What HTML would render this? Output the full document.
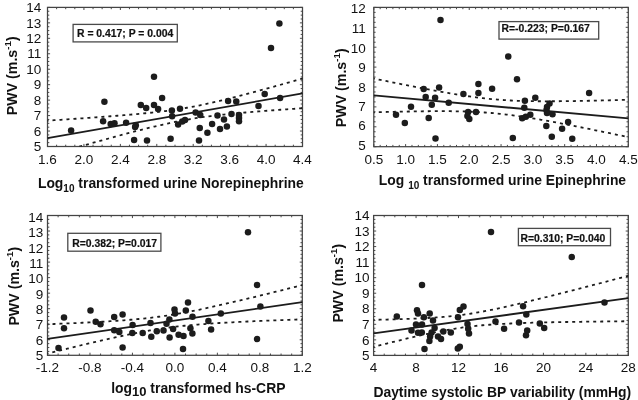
<!DOCTYPE html>
<html><head><meta charset="utf-8"><style>
html,body{margin:0;padding:0;background:#fff;width:638px;height:400px;overflow:hidden;}
svg{display:block;filter:grayscale(100%);}
text{font-family:"Liberation Sans", sans-serif;fill:#111;}
</style></head><body>
<svg width="638" height="400" viewBox="0 0 638 400">
<rect width="638" height="400" fill="#fff"/>
<g id="p1">
<clipPath id="c1"><rect x="47.5" y="7.4" width="255.0" height="139.1"/></clipPath>
<path d="M47.50 146.50v-2.6M47.50 7.40v2.6M56.61 146.50v-1.8M56.61 7.40v1.8M65.71 146.50v-1.8M65.71 7.40v1.8M74.82 146.50v-1.8M74.82 7.40v1.8M83.93 146.50v-2.6M83.93 7.40v2.6M93.04 146.50v-1.8M93.04 7.40v1.8M102.14 146.50v-1.8M102.14 7.40v1.8M111.25 146.50v-1.8M111.25 7.40v1.8M120.36 146.50v-2.6M120.36 7.40v2.6M129.46 146.50v-1.8M129.46 7.40v1.8M138.57 146.50v-1.8M138.57 7.40v1.8M147.68 146.50v-1.8M147.68 7.40v1.8M156.79 146.50v-2.6M156.79 7.40v2.6M165.89 146.50v-1.8M165.89 7.40v1.8M175.00 146.50v-1.8M175.00 7.40v1.8M184.11 146.50v-1.8M184.11 7.40v1.8M193.21 146.50v-2.6M193.21 7.40v2.6M202.32 146.50v-1.8M202.32 7.40v1.8M211.43 146.50v-1.8M211.43 7.40v1.8M220.54 146.50v-1.8M220.54 7.40v1.8M229.64 146.50v-2.6M229.64 7.40v2.6M238.75 146.50v-1.8M238.75 7.40v1.8M247.86 146.50v-1.8M247.86 7.40v1.8M256.96 146.50v-1.8M256.96 7.40v1.8M266.07 146.50v-2.6M266.07 7.40v2.6M275.18 146.50v-1.8M275.18 7.40v1.8M284.29 146.50v-1.8M284.29 7.40v1.8M293.39 146.50v-1.8M293.39 7.40v1.8M302.50 146.50v-2.6M302.50 7.40v2.6M47.50 146.50h2.6M302.50 146.50h-2.6M47.50 142.64h1.8M302.50 142.64h-1.8M47.50 138.77h1.8M302.50 138.77h-1.8M47.50 134.91h1.8M302.50 134.91h-1.8M47.50 131.04h2.6M302.50 131.04h-2.6M47.50 127.18h1.8M302.50 127.18h-1.8M47.50 123.32h1.8M302.50 123.32h-1.8M47.50 119.45h1.8M302.50 119.45h-1.8M47.50 115.59h2.6M302.50 115.59h-2.6M47.50 111.72h1.8M302.50 111.72h-1.8M47.50 107.86h1.8M302.50 107.86h-1.8M47.50 104.00h1.8M302.50 104.00h-1.8M47.50 100.13h2.6M302.50 100.13h-2.6M47.50 96.27h1.8M302.50 96.27h-1.8M47.50 92.41h1.8M302.50 92.41h-1.8M47.50 88.54h1.8M302.50 88.54h-1.8M47.50 84.68h2.6M302.50 84.68h-2.6M47.50 80.81h1.8M302.50 80.81h-1.8M47.50 76.95h1.8M302.50 76.95h-1.8M47.50 73.09h1.8M302.50 73.09h-1.8M47.50 69.22h2.6M302.50 69.22h-2.6M47.50 65.36h1.8M302.50 65.36h-1.8M47.50 61.49h1.8M302.50 61.49h-1.8M47.50 57.63h1.8M302.50 57.63h-1.8M47.50 53.77h2.6M302.50 53.77h-2.6M47.50 49.90h1.8M302.50 49.90h-1.8M47.50 46.04h1.8M302.50 46.04h-1.8M47.50 42.18h1.8M302.50 42.18h-1.8M47.50 38.31h2.6M302.50 38.31h-2.6M47.50 34.45h1.8M302.50 34.45h-1.8M47.50 30.58h1.8M302.50 30.58h-1.8M47.50 26.72h1.8M302.50 26.72h-1.8M47.50 22.86h2.6M302.50 22.86h-2.6M47.50 18.99h1.8M302.50 18.99h-1.8M47.50 15.13h1.8M302.50 15.13h-1.8M47.50 11.26h1.8M302.50 11.26h-1.8M47.50 7.40h2.6M302.50 7.40h-2.6" stroke="#4a4a4a" stroke-width="1" fill="none"/>
<rect x="47.5" y="7.4" width="255.0" height="139.1" fill="none" stroke="#444" stroke-width="1.25"/>
<text x="41.3" y="151.20" text-anchor="end" font-size="13.5">5</text>
<text x="41.3" y="135.74" text-anchor="end" font-size="13.5">6</text>
<text x="41.3" y="120.29" text-anchor="end" font-size="13.5">7</text>
<text x="41.3" y="104.83" text-anchor="end" font-size="13.5">8</text>
<text x="41.3" y="89.38" text-anchor="end" font-size="13.5">9</text>
<text x="41.3" y="73.92" text-anchor="end" font-size="13.5">10</text>
<text x="41.3" y="58.47" text-anchor="end" font-size="13.5">11</text>
<text x="41.3" y="43.01" text-anchor="end" font-size="13.5">12</text>
<text x="41.3" y="27.56" text-anchor="end" font-size="13.5">13</text>
<text x="41.3" y="12.10" text-anchor="end" font-size="13.5">14</text>
<text x="47.50" y="164.4" text-anchor="middle" font-size="13.5">1.6</text>
<text x="83.93" y="164.4" text-anchor="middle" font-size="13.5">2.0</text>
<text x="120.36" y="164.4" text-anchor="middle" font-size="13.5">2.4</text>
<text x="156.79" y="164.4" text-anchor="middle" font-size="13.5">2.8</text>
<text x="193.21" y="164.4" text-anchor="middle" font-size="13.5">3.2</text>
<text x="229.64" y="164.4" text-anchor="middle" font-size="13.5">3.6</text>
<text x="266.07" y="164.4" text-anchor="middle" font-size="13.5">4.0</text>
<text x="302.50" y="164.4" text-anchor="middle" font-size="13.5">4.4</text>
<path d="M45.50 120.78 L47.68 120.64 L49.85 120.50 L52.03 120.36 L54.21 120.21 L56.38 120.07 L58.56 119.93 L60.74 119.78 L62.91 119.64 L65.09 119.50 L67.26 119.35 L69.44 119.21 L71.62 119.06 L73.79 118.91 L75.97 118.76 L78.15 118.61 L80.32 118.47 L82.50 118.32 L84.68 118.16 L86.85 118.01 L89.03 117.86 L91.21 117.70 L93.38 117.55 L95.56 117.39 L97.74 117.23 L99.91 117.08 L102.09 116.91 L104.26 116.75 L106.44 116.59 L108.62 116.42 L110.79 116.26 L112.97 116.09 L115.15 115.92 L117.32 115.74 L119.50 115.57 L121.68 115.39 L123.85 115.21 L126.03 115.03 L128.21 114.84 L130.38 114.66 L132.56 114.46 L134.74 114.27 L136.91 114.07 L139.09 113.87 L141.26 113.66 L143.44 113.45 L145.62 113.23 L147.79 113.01 L149.97 112.79 L152.15 112.55 L154.32 112.32 L156.50 112.07 L158.68 111.82 L160.85 111.56 L163.03 111.29 L165.21 111.02 L167.38 110.74 L169.56 110.44 L171.74 110.14 L173.91 109.83 L176.09 109.51 L178.26 109.18 L180.44 108.84 L182.62 108.48 L184.79 108.12 L186.97 107.74 L189.15 107.36 L191.32 106.96 L193.50 106.55 L195.68 106.13 L197.85 105.70 L200.03 105.26 L202.21 104.81 L204.38 104.35 L206.56 103.89 L208.74 103.41 L210.91 102.92 L213.09 102.43 L215.26 101.92 L217.44 101.41 L219.62 100.89 L221.79 100.37 L223.97 99.84 L226.15 99.30 L228.32 98.76 L230.50 98.22 L232.68 97.66 L234.85 97.11 L237.03 96.55 L239.21 95.98 L241.38 95.41 L243.56 94.84 L245.74 94.27 L247.91 93.69 L250.09 93.11 L252.26 92.52 L254.44 91.94 L256.62 91.35 L258.79 90.76 L260.97 90.16 L263.15 89.57 L265.32 88.97 L267.50 88.37 L269.68 87.77 L271.85 87.17 L274.03 86.56 L276.21 85.96 L278.38 85.35 L280.56 84.75 L282.74 84.14 L284.91 83.53 L287.09 82.92 L289.26 82.30 L291.44 81.69 L293.62 81.08 L295.79 80.46 L297.97 79.85 L300.15 79.23 L302.32 78.61 L304.50 77.99" clip-path="url(#c1)" fill="none" stroke="#1c1c1c" stroke-width="1.8" stroke-dasharray="3 4"/>
<path d="M45.50 156.32 L47.68 155.70 L49.85 155.08 L52.03 154.45 L54.21 153.83 L56.38 153.21 L58.56 152.59 L60.74 151.96 L62.91 151.34 L65.09 150.72 L67.26 150.10 L69.44 149.49 L71.62 148.87 L73.79 148.25 L75.97 147.63 L78.15 147.02 L80.32 146.40 L82.50 145.79 L84.68 145.17 L86.85 144.56 L89.03 143.95 L91.21 143.34 L93.38 142.73 L95.56 142.12 L97.74 141.51 L99.91 140.91 L102.09 140.30 L104.26 139.70 L106.44 139.10 L108.62 138.50 L110.79 137.90 L112.97 137.31 L115.15 136.71 L117.32 136.12 L119.50 135.53 L121.68 134.94 L123.85 134.36 L126.03 133.78 L128.21 133.20 L130.38 132.62 L132.56 132.05 L134.74 131.48 L136.91 130.91 L139.09 130.35 L141.26 129.79 L143.44 129.24 L145.62 128.69 L147.79 128.15 L149.97 127.61 L152.15 127.08 L154.32 126.55 L156.50 126.03 L158.68 125.52 L160.85 125.01 L163.03 124.51 L165.21 124.02 L167.38 123.54 L169.56 123.07 L171.74 122.61 L173.91 122.15 L176.09 121.71 L178.26 121.28 L180.44 120.85 L182.62 120.44 L184.79 120.04 L186.97 119.65 L189.15 119.27 L191.32 118.90 L193.50 118.55 L195.68 118.20 L197.85 117.87 L200.03 117.54 L202.21 117.23 L204.38 116.92 L206.56 116.63 L208.74 116.34 L210.91 116.06 L213.09 115.79 L215.26 115.53 L217.44 115.28 L219.62 115.03 L221.79 114.79 L223.97 114.55 L226.15 114.32 L228.32 114.10 L230.50 113.88 L232.68 113.67 L234.85 113.46 L237.03 113.26 L239.21 113.06 L241.38 112.86 L243.56 112.67 L245.74 112.48 L247.91 112.29 L250.09 112.11 L252.26 111.93 L254.44 111.75 L256.62 111.57 L258.79 111.40 L260.97 111.23 L263.15 111.06 L265.32 110.89 L267.50 110.73 L269.68 110.56 L271.85 110.40 L274.03 110.24 L276.21 110.08 L278.38 109.92 L280.56 109.76 L282.74 109.61 L284.91 109.45 L287.09 109.30 L289.26 109.15 L291.44 109.00 L293.62 108.85 L295.79 108.70 L297.97 108.55 L300.15 108.40 L302.32 108.25 L304.50 108.10" clip-path="url(#c1)" fill="none" stroke="#1c1c1c" stroke-width="1.8" stroke-dasharray="3 4"/>
<line x1="47.5" y1="138.2" x2="302.5" y2="93.4" stroke="#1c1c1c" stroke-width="1.85"/>
<circle cx="71.1" cy="130.4" r="3.25" fill="#1c1c1c"/>
<circle cx="104.4" cy="101.7" r="3.25" fill="#1c1c1c"/>
<circle cx="103.1" cy="121.2" r="3.25" fill="#1c1c1c"/>
<circle cx="110.7" cy="124.1" r="3.25" fill="#1c1c1c"/>
<circle cx="114.5" cy="123.3" r="3.25" fill="#1c1c1c"/>
<circle cx="126.1" cy="122.8" r="3.25" fill="#1c1c1c"/>
<circle cx="135.8" cy="125.2" r="3.25" fill="#1c1c1c"/>
<circle cx="135.1" cy="126.9" r="3.25" fill="#1c1c1c"/>
<circle cx="134.1" cy="139.9" r="3.25" fill="#1c1c1c"/>
<circle cx="147" cy="140.6" r="3.25" fill="#1c1c1c"/>
<circle cx="140.8" cy="104.9" r="3.25" fill="#1c1c1c"/>
<circle cx="146.2" cy="108" r="3.25" fill="#1c1c1c"/>
<circle cx="154" cy="76.7" r="3.25" fill="#1c1c1c"/>
<circle cx="154" cy="104.9" r="3.25" fill="#1c1c1c"/>
<circle cx="158.1" cy="108.9" r="3.25" fill="#1c1c1c"/>
<circle cx="162.1" cy="97.9" r="3.25" fill="#1c1c1c"/>
<circle cx="170.6" cy="138.75" r="3.25" fill="#1c1c1c"/>
<circle cx="171.9" cy="110.6" r="3.25" fill="#1c1c1c"/>
<circle cx="172.1" cy="116.25" r="3.25" fill="#1c1c1c"/>
<circle cx="180" cy="108.75" r="3.25" fill="#1c1c1c"/>
<circle cx="178.1" cy="124.4" r="3.25" fill="#1c1c1c"/>
<circle cx="182.25" cy="121.6" r="3.25" fill="#1c1c1c"/>
<circle cx="185" cy="120" r="3.25" fill="#1c1c1c"/>
<circle cx="195.6" cy="112.5" r="3.25" fill="#1c1c1c"/>
<circle cx="200.25" cy="115" r="3.25" fill="#1c1c1c"/>
<circle cx="199.75" cy="128.1" r="3.25" fill="#1c1c1c"/>
<circle cx="199" cy="140.6" r="3.25" fill="#1c1c1c"/>
<circle cx="207.4" cy="132.75" r="3.25" fill="#1c1c1c"/>
<circle cx="212.1" cy="124" r="3.25" fill="#1c1c1c"/>
<circle cx="217.5" cy="115.6" r="3.25" fill="#1c1c1c"/>
<circle cx="220" cy="129" r="3.25" fill="#1c1c1c"/>
<circle cx="224" cy="119.6" r="3.25" fill="#1c1c1c"/>
<circle cx="226.9" cy="126.5" r="3.25" fill="#1c1c1c"/>
<circle cx="228.1" cy="101" r="3.25" fill="#1c1c1c"/>
<circle cx="231.5" cy="114.1" r="3.25" fill="#1c1c1c"/>
<circle cx="236.25" cy="101.6" r="3.25" fill="#1c1c1c"/>
<circle cx="239" cy="115" r="3.25" fill="#1c1c1c"/>
<circle cx="239" cy="118.1" r="3.25" fill="#1c1c1c"/>
<circle cx="239" cy="121.25" r="3.25" fill="#1c1c1c"/>
<circle cx="258.5" cy="105.9" r="3.25" fill="#1c1c1c"/>
<circle cx="264.7" cy="94.1" r="3.25" fill="#1c1c1c"/>
<circle cx="280.1" cy="98" r="3.25" fill="#1c1c1c"/>
<circle cx="271" cy="48.1" r="3.25" fill="#1c1c1c"/>
<circle cx="279.4" cy="23.5" r="3.25" fill="#1c1c1c"/>
<rect x="73.1" y="24.4" width="104.20" height="17.50" fill="#fff" stroke="#4a4a4a" stroke-width="1.3"/>
<text x="77.0" y="37.0" font-size="10.4" font-weight="bold" stroke="#1a1a1a" stroke-width="0.2">R = 0.417; P = 0.004</text>
<text transform="translate(16.7,115.2) rotate(-90)" font-size="14.2" font-weight="bold">PWV (m.s<tspan font-size="9.8" dy="-5.6">-1</tspan><tspan dy="5.6">)</tspan></text>
<text x="37.9" y="188.3"><tspan font-size="13.9" font-weight="bold" dy="0">Log</tspan><tspan font-size="10" font-weight="bold" dy="3.9">10</tspan><tspan font-size="13.9" font-weight="bold" dy="-3.9">&#160;transformed&#160;urine&#160;Norepinephrine</tspan></text>
</g>
<g id="p2">
<clipPath id="c2"><rect x="373.8" y="7.4" width="254.49999999999994" height="139.29999999999998"/></clipPath>
<path d="M373.80 146.70v-2.6M373.80 7.40v2.6M380.16 146.70v-1.8M380.16 7.40v1.8M386.52 146.70v-1.8M386.52 7.40v1.8M392.89 146.70v-1.8M392.89 7.40v1.8M399.25 146.70v-1.8M399.25 7.40v1.8M405.61 146.70v-2.6M405.61 7.40v2.6M411.98 146.70v-1.8M411.98 7.40v1.8M418.34 146.70v-1.8M418.34 7.40v1.8M424.70 146.70v-1.8M424.70 7.40v1.8M431.06 146.70v-1.8M431.06 7.40v1.8M437.43 146.70v-2.6M437.43 7.40v2.6M443.79 146.70v-1.8M443.79 7.40v1.8M450.15 146.70v-1.8M450.15 7.40v1.8M456.51 146.70v-1.8M456.51 7.40v1.8M462.88 146.70v-1.8M462.88 7.40v1.8M469.24 146.70v-2.6M469.24 7.40v2.6M475.60 146.70v-1.8M475.60 7.40v1.8M481.96 146.70v-1.8M481.96 7.40v1.8M488.32 146.70v-1.8M488.32 7.40v1.8M494.69 146.70v-1.8M494.69 7.40v1.8M501.05 146.70v-2.6M501.05 7.40v2.6M507.41 146.70v-1.8M507.41 7.40v1.8M513.77 146.70v-1.8M513.77 7.40v1.8M520.14 146.70v-1.8M520.14 7.40v1.8M526.50 146.70v-1.8M526.50 7.40v1.8M532.86 146.70v-2.6M532.86 7.40v2.6M539.22 146.70v-1.8M539.22 7.40v1.8M545.59 146.70v-1.8M545.59 7.40v1.8M551.95 146.70v-1.8M551.95 7.40v1.8M558.31 146.70v-1.8M558.31 7.40v1.8M564.67 146.70v-2.6M564.67 7.40v2.6M571.04 146.70v-1.8M571.04 7.40v1.8M577.40 146.70v-1.8M577.40 7.40v1.8M583.76 146.70v-1.8M583.76 7.40v1.8M590.12 146.70v-1.8M590.12 7.40v1.8M596.49 146.70v-2.6M596.49 7.40v2.6M602.85 146.70v-1.8M602.85 7.40v1.8M609.21 146.70v-1.8M609.21 7.40v1.8M615.58 146.70v-1.8M615.58 7.40v1.8M621.94 146.70v-1.8M621.94 7.40v1.8M628.30 146.70v-2.6M628.30 7.40v2.6M373.80 146.70h2.6M628.30 146.70h-2.6M373.80 141.72h1.8M628.30 141.72h-1.8M373.80 136.75h1.8M628.30 136.75h-1.8M373.80 131.77h1.8M628.30 131.77h-1.8M373.80 126.80h2.6M628.30 126.80h-2.6M373.80 121.82h1.8M628.30 121.82h-1.8M373.80 116.85h1.8M628.30 116.85h-1.8M373.80 111.88h1.8M628.30 111.88h-1.8M373.80 106.90h2.6M628.30 106.90h-2.6M373.80 101.92h1.8M628.30 101.92h-1.8M373.80 96.95h1.8M628.30 96.95h-1.8M373.80 91.97h1.8M628.30 91.97h-1.8M373.80 87.00h2.6M628.30 87.00h-2.6M373.80 82.02h1.8M628.30 82.02h-1.8M373.80 77.05h1.8M628.30 77.05h-1.8M373.80 72.08h1.8M628.30 72.08h-1.8M373.80 67.10h2.6M628.30 67.10h-2.6M373.80 62.12h1.8M628.30 62.12h-1.8M373.80 57.15h1.8M628.30 57.15h-1.8M373.80 52.17h1.8M628.30 52.17h-1.8M373.80 47.20h2.6M628.30 47.20h-2.6M373.80 42.22h1.8M628.30 42.22h-1.8M373.80 37.25h1.8M628.30 37.25h-1.8M373.80 32.28h1.8M628.30 32.28h-1.8M373.80 27.30h2.6M628.30 27.30h-2.6M373.80 22.33h1.8M628.30 22.33h-1.8M373.80 17.35h1.8M628.30 17.35h-1.8M373.80 12.38h1.8M628.30 12.38h-1.8M373.80 7.40h2.6M628.30 7.40h-2.6" stroke="#4a4a4a" stroke-width="1" fill="none"/>
<rect x="373.8" y="7.4" width="254.49999999999994" height="139.29999999999998" fill="none" stroke="#444" stroke-width="1.25"/>
<text x="365.7" y="149.50" text-anchor="end" font-size="13.5">5</text>
<text x="365.7" y="130.00" text-anchor="end" font-size="13.5">6</text>
<text x="365.7" y="111.10" text-anchor="end" font-size="13.5">7</text>
<text x="365.7" y="91.90" text-anchor="end" font-size="13.5">8</text>
<text x="365.7" y="72.00" text-anchor="end" font-size="13.5">9</text>
<text x="365.7" y="52.50" text-anchor="end" font-size="13.5">10</text>
<text x="365.7" y="32.80" text-anchor="end" font-size="13.5">11</text>
<text x="365.7" y="13.40" text-anchor="end" font-size="13.5">12</text>
<text x="373.80" y="163.7" text-anchor="middle" font-size="13.5">0.5</text>
<text x="405.61" y="163.7" text-anchor="middle" font-size="13.5">1.0</text>
<text x="437.43" y="163.7" text-anchor="middle" font-size="13.5">1.5</text>
<text x="469.24" y="163.7" text-anchor="middle" font-size="13.5">2.0</text>
<text x="501.05" y="163.7" text-anchor="middle" font-size="13.5">2.5</text>
<text x="532.86" y="163.7" text-anchor="middle" font-size="13.5">3.0</text>
<text x="564.67" y="163.7" text-anchor="middle" font-size="13.5">3.5</text>
<text x="596.49" y="163.7" text-anchor="middle" font-size="13.5">4.0</text>
<text x="628.30" y="163.7" text-anchor="middle" font-size="13.5">4.5</text>
<path d="M371.80 78.08 L373.97 78.54 L376.14 78.99 L378.32 79.44 L380.49 79.88 L382.66 80.33 L384.83 80.78 L387.01 81.22 L389.18 81.67 L391.35 82.11 L393.52 82.56 L395.69 83.00 L397.87 83.44 L400.04 83.88 L402.21 84.31 L404.38 84.75 L406.56 85.18 L408.73 85.62 L410.90 86.05 L413.07 86.48 L415.25 86.90 L417.42 87.33 L419.59 87.75 L421.76 88.17 L423.93 88.59 L426.11 89.01 L428.28 89.42 L430.45 89.83 L432.62 90.24 L434.80 90.64 L436.97 91.04 L439.14 91.44 L441.31 91.83 L443.48 92.22 L445.66 92.60 L447.83 92.98 L450.00 93.36 L452.17 93.73 L454.35 94.09 L456.52 94.45 L458.69 94.80 L460.86 95.14 L463.04 95.48 L465.21 95.81 L467.38 96.13 L469.55 96.45 L471.72 96.75 L473.90 97.05 L476.07 97.33 L478.24 97.61 L480.41 97.88 L482.59 98.14 L484.76 98.38 L486.93 98.62 L489.10 98.84 L491.27 99.06 L493.45 99.26 L495.62 99.45 L497.79 99.63 L499.96 99.80 L502.14 99.96 L504.31 100.11 L506.48 100.25 L508.65 100.37 L510.83 100.49 L513.00 100.60 L515.17 100.69 L517.34 100.78 L519.51 100.86 L521.69 100.93 L523.86 101.00 L526.03 101.05 L528.20 101.10 L530.38 101.14 L532.55 101.18 L534.72 101.21 L536.89 101.23 L539.06 101.25 L541.24 101.27 L543.41 101.28 L545.58 101.28 L547.75 101.28 L549.93 101.28 L552.10 101.27 L554.27 101.26 L556.44 101.25 L558.62 101.23 L560.79 101.21 L562.96 101.19 L565.13 101.16 L567.30 101.14 L569.48 101.11 L571.65 101.07 L573.82 101.04 L575.99 101.00 L578.17 100.97 L580.34 100.93 L582.51 100.88 L584.68 100.84 L586.85 100.80 L589.03 100.75 L591.20 100.70 L593.37 100.66 L595.54 100.61 L597.72 100.55 L599.89 100.50 L602.06 100.45 L604.23 100.40 L606.41 100.34 L608.58 100.28 L610.75 100.23 L612.92 100.17 L615.09 100.11 L617.27 100.05 L619.44 99.99 L621.61 99.93 L623.78 99.87 L625.96 99.81 L628.13 99.75 L630.30 99.68" clip-path="url(#c2)" fill="none" stroke="#1c1c1c" stroke-width="1.8" stroke-dasharray="3 4"/>
<path d="M371.80 112.35 L373.97 112.30 L376.14 112.24 L378.32 112.18 L380.49 112.13 L382.66 112.07 L384.83 112.02 L387.01 111.96 L389.18 111.91 L391.35 111.86 L393.52 111.81 L395.69 111.76 L397.87 111.71 L400.04 111.67 L402.21 111.62 L404.38 111.58 L406.56 111.54 L408.73 111.50 L410.90 111.46 L413.07 111.42 L415.25 111.39 L417.42 111.36 L419.59 111.32 L421.76 111.30 L423.93 111.27 L426.11 111.25 L428.28 111.23 L430.45 111.21 L432.62 111.20 L434.80 111.19 L436.97 111.18 L439.14 111.17 L441.31 111.17 L443.48 111.18 L445.66 111.19 L447.83 111.20 L450.00 111.22 L452.17 111.24 L454.35 111.27 L456.52 111.31 L458.69 111.35 L460.86 111.40 L463.04 111.45 L465.21 111.52 L467.38 111.59 L469.55 111.67 L471.72 111.75 L473.90 111.85 L476.07 111.95 L478.24 112.07 L480.41 112.19 L482.59 112.33 L484.76 112.48 L486.93 112.63 L489.10 112.80 L491.27 112.98 L493.45 113.17 L495.62 113.37 L497.79 113.58 L499.96 113.81 L502.14 114.04 L504.31 114.29 L506.48 114.54 L508.65 114.81 L510.83 115.08 L513.00 115.37 L515.17 115.66 L517.34 115.97 L519.51 116.28 L521.69 116.60 L523.86 116.93 L526.03 117.27 L528.20 117.61 L530.38 117.96 L532.55 118.32 L534.72 118.68 L536.89 119.05 L539.06 119.42 L541.24 119.80 L543.41 120.18 L545.58 120.57 L547.75 120.96 L549.93 121.36 L552.10 121.76 L554.27 122.16 L556.44 122.57 L558.62 122.98 L560.79 123.39 L562.96 123.81 L565.13 124.22 L567.30 124.65 L569.48 125.07 L571.65 125.49 L573.82 125.92 L575.99 126.35 L578.17 126.78 L580.34 127.21 L582.51 127.65 L584.68 128.08 L586.85 128.52 L589.03 128.96 L591.20 129.40 L593.37 129.84 L595.54 130.28 L597.72 130.73 L599.89 131.17 L602.06 131.62 L604.23 132.06 L606.41 132.51 L608.58 132.96 L610.75 133.41 L612.92 133.86 L615.09 134.31 L617.27 134.76 L619.44 135.21 L621.61 135.67 L623.78 136.12 L625.96 136.58 L628.13 137.03 L630.30 137.49" clip-path="url(#c2)" fill="none" stroke="#1c1c1c" stroke-width="1.8" stroke-dasharray="3 4"/>
<line x1="373.8" y1="95.4" x2="628.25" y2="118.4" stroke="#1c1c1c" stroke-width="1.85"/>
<circle cx="396" cy="114.8" r="3.25" fill="#1c1c1c"/>
<circle cx="404.8" cy="123" r="3.25" fill="#1c1c1c"/>
<circle cx="411" cy="106.8" r="3.25" fill="#1c1c1c"/>
<circle cx="423.7" cy="88.9" r="3.25" fill="#1c1c1c"/>
<circle cx="425.7" cy="96.9" r="3.25" fill="#1c1c1c"/>
<circle cx="428.7" cy="117.9" r="3.25" fill="#1c1c1c"/>
<circle cx="431.8" cy="104.8" r="3.25" fill="#1c1c1c"/>
<circle cx="435.1" cy="97.7" r="3.25" fill="#1c1c1c"/>
<circle cx="435.5" cy="138.6" r="3.25" fill="#1c1c1c"/>
<circle cx="439.1" cy="87.4" r="3.25" fill="#1c1c1c"/>
<circle cx="448.7" cy="102.8" r="3.25" fill="#1c1c1c"/>
<circle cx="463.4" cy="94" r="3.25" fill="#1c1c1c"/>
<circle cx="468.1" cy="112" r="3.25" fill="#1c1c1c"/>
<circle cx="467.4" cy="116.1" r="3.25" fill="#1c1c1c"/>
<circle cx="469.3" cy="119.1" r="3.25" fill="#1c1c1c"/>
<circle cx="476" cy="112" r="3.25" fill="#1c1c1c"/>
<circle cx="478.4" cy="84.1" r="3.25" fill="#1c1c1c"/>
<circle cx="478.4" cy="92.9" r="3.25" fill="#1c1c1c"/>
<circle cx="492.1" cy="88.7" r="3.25" fill="#1c1c1c"/>
<circle cx="508.25" cy="56.5" r="3.25" fill="#1c1c1c"/>
<circle cx="517" cy="79.3" r="3.25" fill="#1c1c1c"/>
<circle cx="535.3" cy="97.7" r="3.25" fill="#1c1c1c"/>
<circle cx="524.9" cy="100.8" r="3.25" fill="#1c1c1c"/>
<circle cx="524.3" cy="107.8" r="3.25" fill="#1c1c1c"/>
<circle cx="522.2" cy="118.3" r="3.25" fill="#1c1c1c"/>
<circle cx="525.8" cy="116.8" r="3.25" fill="#1c1c1c"/>
<circle cx="530.3" cy="114.7" r="3.25" fill="#1c1c1c"/>
<circle cx="549.5" cy="103.5" r="3.25" fill="#1c1c1c"/>
<circle cx="547" cy="107" r="3.25" fill="#1c1c1c"/>
<circle cx="546.5" cy="110" r="3.25" fill="#1c1c1c"/>
<circle cx="547" cy="113" r="3.25" fill="#1c1c1c"/>
<circle cx="552.5" cy="114.2" r="3.25" fill="#1c1c1c"/>
<circle cx="546.3" cy="126" r="3.25" fill="#1c1c1c"/>
<circle cx="562.1" cy="128.8" r="3.25" fill="#1c1c1c"/>
<circle cx="568.1" cy="121.9" r="3.25" fill="#1c1c1c"/>
<circle cx="572.25" cy="138.8" r="3.25" fill="#1c1c1c"/>
<circle cx="589.1" cy="92.9" r="3.25" fill="#1c1c1c"/>
<circle cx="512.8" cy="137.9" r="3.25" fill="#1c1c1c"/>
<circle cx="551.8" cy="136.7" r="3.25" fill="#1c1c1c"/>
<circle cx="440.5" cy="20" r="3.25" fill="#1c1c1c"/>
<rect x="499" y="21.6" width="99.70" height="17.50" fill="#fff" stroke="#4a4a4a" stroke-width="1.3"/>
<text x="501.5" y="32.3" font-size="10.4" font-weight="bold" stroke="#1a1a1a" stroke-width="0.2">R=-0.223; P=0.167</text>
<text transform="translate(345.8,127.2) rotate(-90)" font-size="14.2" font-weight="bold">PWV (m.s<tspan font-size="9.8" dy="-5.6">-1</tspan><tspan dy="5.6">)</tspan></text>
<text x="378.8" y="184.6"><tspan font-size="13.9" font-weight="bold" dy="0">Log&#160;</tspan><tspan font-size="10" font-weight="bold" dy="4.4">10</tspan><tspan font-size="13.9" font-weight="bold" dy="-4.4">&#160;transformed&#160;urine&#160;Epinephrine</tspan></text>
</g>
<g id="p3">
<clipPath id="c3"><rect x="47.5" y="215.5" width="254.8" height="139.8"/></clipPath>
<path d="M47.50 355.30v-2.6M47.50 215.50v2.6M58.12 355.30v-1.8M58.12 215.50v1.8M68.73 355.30v-1.8M68.73 215.50v1.8M79.35 355.30v-1.8M79.35 215.50v1.8M89.97 355.30v-2.6M89.97 215.50v2.6M100.58 355.30v-1.8M100.58 215.50v1.8M111.20 355.30v-1.8M111.20 215.50v1.8M121.82 355.30v-1.8M121.82 215.50v1.8M132.43 355.30v-2.6M132.43 215.50v2.6M143.05 355.30v-1.8M143.05 215.50v1.8M153.67 355.30v-1.8M153.67 215.50v1.8M164.28 355.30v-1.8M164.28 215.50v1.8M174.90 355.30v-2.6M174.90 215.50v2.6M185.52 355.30v-1.8M185.52 215.50v1.8M196.13 355.30v-1.8M196.13 215.50v1.8M206.75 355.30v-1.8M206.75 215.50v1.8M217.37 355.30v-2.6M217.37 215.50v2.6M227.98 355.30v-1.8M227.98 215.50v1.8M238.60 355.30v-1.8M238.60 215.50v1.8M249.22 355.30v-1.8M249.22 215.50v1.8M259.83 355.30v-2.6M259.83 215.50v2.6M270.45 355.30v-1.8M270.45 215.50v1.8M281.07 355.30v-1.8M281.07 215.50v1.8M291.68 355.30v-1.8M291.68 215.50v1.8M302.30 355.30v-2.6M302.30 215.50v2.6M47.50 355.30h2.6M302.30 355.30h-2.6M47.50 351.42h1.8M302.30 351.42h-1.8M47.50 347.53h1.8M302.30 347.53h-1.8M47.50 343.65h1.8M302.30 343.65h-1.8M47.50 339.77h2.6M302.30 339.77h-2.6M47.50 335.88h1.8M302.30 335.88h-1.8M47.50 332.00h1.8M302.30 332.00h-1.8M47.50 328.12h1.8M302.30 328.12h-1.8M47.50 324.23h2.6M302.30 324.23h-2.6M47.50 320.35h1.8M302.30 320.35h-1.8M47.50 316.47h1.8M302.30 316.47h-1.8M47.50 312.58h1.8M302.30 312.58h-1.8M47.50 308.70h2.6M302.30 308.70h-2.6M47.50 304.82h1.8M302.30 304.82h-1.8M47.50 300.93h1.8M302.30 300.93h-1.8M47.50 297.05h1.8M302.30 297.05h-1.8M47.50 293.17h2.6M302.30 293.17h-2.6M47.50 289.28h1.8M302.30 289.28h-1.8M47.50 285.40h1.8M302.30 285.40h-1.8M47.50 281.52h1.8M302.30 281.52h-1.8M47.50 277.63h2.6M302.30 277.63h-2.6M47.50 273.75h1.8M302.30 273.75h-1.8M47.50 269.87h1.8M302.30 269.87h-1.8M47.50 265.98h1.8M302.30 265.98h-1.8M47.50 262.10h2.6M302.30 262.10h-2.6M47.50 258.22h1.8M302.30 258.22h-1.8M47.50 254.33h1.8M302.30 254.33h-1.8M47.50 250.45h1.8M302.30 250.45h-1.8M47.50 246.57h2.6M302.30 246.57h-2.6M47.50 242.68h1.8M302.30 242.68h-1.8M47.50 238.80h1.8M302.30 238.80h-1.8M47.50 234.92h1.8M302.30 234.92h-1.8M47.50 231.03h2.6M302.30 231.03h-2.6M47.50 227.15h1.8M302.30 227.15h-1.8M47.50 223.27h1.8M302.30 223.27h-1.8M47.50 219.38h1.8M302.30 219.38h-1.8M47.50 215.50h2.6M302.30 215.50h-2.6" stroke="#4a4a4a" stroke-width="1" fill="none"/>
<rect x="47.5" y="215.5" width="254.8" height="139.8" fill="none" stroke="#444" stroke-width="1.25"/>
<text x="43.3" y="359.50" text-anchor="end" font-size="13.5">5</text>
<text x="43.3" y="344.50" text-anchor="end" font-size="13.5">6</text>
<text x="43.3" y="329.30" text-anchor="end" font-size="13.5">7</text>
<text x="43.3" y="314.10" text-anchor="end" font-size="13.5">8</text>
<text x="43.3" y="298.90" text-anchor="end" font-size="13.5">9</text>
<text x="43.3" y="283.30" text-anchor="end" font-size="13.5">10</text>
<text x="43.3" y="267.80" text-anchor="end" font-size="13.5">11</text>
<text x="43.3" y="252.60" text-anchor="end" font-size="13.5">12</text>
<text x="43.3" y="237.30" text-anchor="end" font-size="13.5">13</text>
<text x="43.3" y="221.90" text-anchor="end" font-size="13.5">14</text>
<text x="47.50" y="371.6" text-anchor="middle" font-size="13.5">-1.2</text>
<text x="89.97" y="371.6" text-anchor="middle" font-size="13.5">-0.8</text>
<text x="132.43" y="371.6" text-anchor="middle" font-size="13.5">-0.4</text>
<text x="174.90" y="371.6" text-anchor="middle" font-size="13.5">0.0</text>
<text x="217.37" y="371.6" text-anchor="middle" font-size="13.5">0.4</text>
<text x="259.83" y="371.6" text-anchor="middle" font-size="13.5">0.8</text>
<text x="302.30" y="371.6" text-anchor="middle" font-size="13.5">1.2</text>
<path d="M45.50 324.34 L47.67 324.26 L49.85 324.17 L52.02 324.08 L54.20 323.99 L56.37 323.90 L58.55 323.81 L60.72 323.72 L62.90 323.63 L65.07 323.54 L67.25 323.44 L69.42 323.35 L71.60 323.25 L73.77 323.15 L75.95 323.05 L78.12 322.95 L80.30 322.85 L82.47 322.74 L84.65 322.64 L86.82 322.53 L89.00 322.42 L91.17 322.31 L93.35 322.20 L95.52 322.08 L97.69 321.96 L99.87 321.84 L102.04 321.72 L104.22 321.59 L106.39 321.46 L108.57 321.33 L110.74 321.19 L112.92 321.05 L115.09 320.91 L117.27 320.76 L119.44 320.61 L121.62 320.45 L123.79 320.29 L125.97 320.12 L128.14 319.95 L130.32 319.77 L132.49 319.59 L134.67 319.39 L136.84 319.20 L139.02 318.99 L141.19 318.78 L143.37 318.55 L145.54 318.32 L147.72 318.09 L149.89 317.84 L152.06 317.58 L154.24 317.31 L156.41 317.04 L158.59 316.75 L160.76 316.46 L162.94 316.15 L165.11 315.83 L167.29 315.51 L169.46 315.17 L171.64 314.82 L173.81 314.47 L175.99 314.10 L178.16 313.72 L180.34 313.34 L182.51 312.94 L184.69 312.54 L186.86 312.13 L189.04 311.71 L191.21 311.29 L193.39 310.86 L195.56 310.42 L197.74 309.97 L199.91 309.52 L202.08 309.06 L204.26 308.60 L206.43 308.13 L208.61 307.66 L210.78 307.18 L212.96 306.70 L215.13 306.22 L217.31 305.73 L219.48 305.23 L221.66 304.74 L223.83 304.24 L226.01 303.74 L228.18 303.23 L230.36 302.73 L232.53 302.22 L234.71 301.70 L236.88 301.19 L239.06 300.67 L241.23 300.15 L243.41 299.63 L245.58 299.11 L247.76 298.59 L249.93 298.06 L252.11 297.54 L254.28 297.01 L256.45 296.48 L258.63 295.95 L260.80 295.42 L262.98 294.88 L265.15 294.35 L267.33 293.82 L269.50 293.28 L271.68 292.74 L273.85 292.20 L276.03 291.67 L278.20 291.13 L280.38 290.59 L282.55 290.05 L284.73 289.50 L286.90 288.96 L289.08 288.42 L291.25 287.88 L293.43 287.33 L295.60 286.79 L297.78 286.24 L299.95 285.70 L302.13 285.15 L304.30 284.60" clip-path="url(#c3)" fill="none" stroke="#1c1c1c" stroke-width="1.8" stroke-dasharray="3 4"/>
<path d="M45.50 354.03 L47.67 353.49 L49.85 352.95 L52.02 352.42 L54.20 351.88 L56.37 351.34 L58.55 350.80 L60.72 350.27 L62.90 349.73 L65.07 349.20 L67.25 348.67 L69.42 348.14 L71.60 347.61 L73.77 347.08 L75.95 346.55 L78.12 346.03 L80.30 345.50 L82.47 344.98 L84.65 344.46 L86.82 343.94 L89.00 343.42 L91.17 342.91 L93.35 342.40 L95.52 341.89 L97.69 341.38 L99.87 340.87 L102.04 340.37 L104.22 339.87 L106.39 339.37 L108.57 338.88 L110.74 338.39 L112.92 337.90 L115.09 337.42 L117.27 336.94 L119.44 336.47 L121.62 336.00 L123.79 335.53 L125.97 335.07 L128.14 334.62 L130.32 334.17 L132.49 333.73 L134.67 333.30 L136.84 332.87 L139.02 332.45 L141.19 332.03 L143.37 331.63 L145.54 331.23 L147.72 330.85 L149.89 330.47 L152.06 330.10 L154.24 329.74 L156.41 329.39 L158.59 329.05 L160.76 328.72 L162.94 328.40 L165.11 328.09 L167.29 327.79 L169.46 327.50 L171.64 327.22 L173.81 326.95 L175.99 326.69 L178.16 326.44 L180.34 326.20 L182.51 325.96 L184.69 325.74 L186.86 325.52 L189.04 325.31 L191.21 325.11 L193.39 324.92 L195.56 324.73 L197.74 324.55 L199.91 324.38 L202.08 324.21 L204.26 324.04 L206.43 323.88 L208.61 323.73 L210.78 323.58 L212.96 323.44 L215.13 323.29 L217.31 323.16 L219.48 323.02 L221.66 322.89 L223.83 322.76 L226.01 322.64 L228.18 322.52 L230.36 322.40 L232.53 322.28 L234.71 322.17 L236.88 322.06 L239.06 321.95 L241.23 321.84 L243.41 321.73 L245.58 321.63 L247.76 321.52 L249.93 321.42 L252.11 321.32 L254.28 321.22 L256.45 321.13 L258.63 321.03 L260.80 320.94 L262.98 320.84 L265.15 320.75 L267.33 320.66 L269.50 320.57 L271.68 320.48 L273.85 320.39 L276.03 320.30 L278.20 320.21 L280.38 320.13 L282.55 320.04 L284.73 319.96 L286.90 319.87 L289.08 319.79 L291.25 319.71 L293.43 319.62 L295.60 319.54 L297.78 319.46 L299.95 319.38 L302.13 319.30 L304.30 319.22" clip-path="url(#c3)" fill="none" stroke="#1c1c1c" stroke-width="1.8" stroke-dasharray="3 4"/>
<line x1="47.5" y1="338.9" x2="302.3" y2="302.2" stroke="#1c1c1c" stroke-width="1.85"/>
<circle cx="58.5" cy="348.1" r="3.25" fill="#1c1c1c"/>
<circle cx="64" cy="317.4" r="3.25" fill="#1c1c1c"/>
<circle cx="64" cy="328.3" r="3.25" fill="#1c1c1c"/>
<circle cx="90.5" cy="310.4" r="3.25" fill="#1c1c1c"/>
<circle cx="95.7" cy="321.8" r="3.25" fill="#1c1c1c"/>
<circle cx="100.5" cy="324.2" r="3.25" fill="#1c1c1c"/>
<circle cx="114.2" cy="317" r="3.25" fill="#1c1c1c"/>
<circle cx="114.2" cy="330.3" r="3.25" fill="#1c1c1c"/>
<circle cx="119.3" cy="332.1" r="3.25" fill="#1c1c1c"/>
<circle cx="122.6" cy="314.5" r="3.25" fill="#1c1c1c"/>
<circle cx="122.6" cy="347.4" r="3.25" fill="#1c1c1c"/>
<circle cx="132.6" cy="325.1" r="3.25" fill="#1c1c1c"/>
<circle cx="132.3" cy="332.9" r="3.25" fill="#1c1c1c"/>
<circle cx="142.7" cy="332.9" r="3.25" fill="#1c1c1c"/>
<circle cx="150.5" cy="323" r="3.25" fill="#1c1c1c"/>
<circle cx="151.3" cy="336.8" r="3.25" fill="#1c1c1c"/>
<circle cx="156.8" cy="331.3" r="3.25" fill="#1c1c1c"/>
<circle cx="163.5" cy="330.5" r="3.25" fill="#1c1c1c"/>
<circle cx="166.5" cy="323.7" r="3.25" fill="#1c1c1c"/>
<circle cx="169.4" cy="319.6" r="3.25" fill="#1c1c1c"/>
<circle cx="169.6" cy="337.6" r="3.25" fill="#1c1c1c"/>
<circle cx="173.1" cy="328.9" r="3.25" fill="#1c1c1c"/>
<circle cx="174.5" cy="309.4" r="3.25" fill="#1c1c1c"/>
<circle cx="175" cy="313.4" r="3.25" fill="#1c1c1c"/>
<circle cx="178.6" cy="334.8" r="3.25" fill="#1c1c1c"/>
<circle cx="183.5" cy="336" r="3.25" fill="#1c1c1c"/>
<circle cx="183" cy="349.1" r="3.25" fill="#1c1c1c"/>
<circle cx="188" cy="302.4" r="3.25" fill="#1c1c1c"/>
<circle cx="185.8" cy="310.5" r="3.25" fill="#1c1c1c"/>
<circle cx="192.5" cy="316.7" r="3.25" fill="#1c1c1c"/>
<circle cx="190.4" cy="328.2" r="3.25" fill="#1c1c1c"/>
<circle cx="192.4" cy="333.5" r="3.25" fill="#1c1c1c"/>
<circle cx="208.4" cy="320.9" r="3.25" fill="#1c1c1c"/>
<circle cx="211.1" cy="329.5" r="3.25" fill="#1c1c1c"/>
<circle cx="220.8" cy="313.6" r="3.25" fill="#1c1c1c"/>
<circle cx="248" cy="232.2" r="3.25" fill="#1c1c1c"/>
<circle cx="257" cy="285" r="3.25" fill="#1c1c1c"/>
<circle cx="260.4" cy="306.6" r="3.25" fill="#1c1c1c"/>
<circle cx="257" cy="339.1" r="3.25" fill="#1c1c1c"/>
<rect x="67.8" y="233.3" width="93.10" height="17.90" fill="#fff" stroke="#4a4a4a" stroke-width="1.3"/>
<text x="72.2" y="247.3" font-size="10.4" font-weight="bold" stroke="#1a1a1a" stroke-width="0.2">R=0.382; P=0.017</text>
<text transform="translate(18.6,325.6) rotate(-90)" font-size="14.2" font-weight="bold">PWV (m.s<tspan font-size="9.8" dy="-5.6">-1</tspan><tspan dy="5.6">)</tspan></text>
<text x="111.2" y="392.9"><tspan font-size="13.9" font-weight="bold" dy="0">log</tspan><tspan font-size="13" font-weight="bold" dy="3.4">10</tspan><tspan font-size="13.9" font-weight="bold" dy="-3.4">&#160;transformed&#160;hs-CRP</tspan></text>
</g>
<g id="p4">
<clipPath id="c4"><rect x="373.6" y="215.5" width="254.69999999999993" height="139.89999999999998"/></clipPath>
<path d="M373.60 355.40v-2.6M373.60 215.50v2.6M384.21 355.40v-1.8M384.21 215.50v1.8M394.83 355.40v-1.8M394.83 215.50v1.8M405.44 355.40v-1.8M405.44 215.50v1.8M416.05 355.40v-2.6M416.05 215.50v2.6M426.66 355.40v-1.8M426.66 215.50v1.8M437.27 355.40v-1.8M437.27 215.50v1.8M447.89 355.40v-1.8M447.89 215.50v1.8M458.50 355.40v-2.6M458.50 215.50v2.6M469.11 355.40v-1.8M469.11 215.50v1.8M479.73 355.40v-1.8M479.73 215.50v1.8M490.34 355.40v-1.8M490.34 215.50v1.8M500.95 355.40v-2.6M500.95 215.50v2.6M511.56 355.40v-1.8M511.56 215.50v1.8M522.17 355.40v-1.8M522.17 215.50v1.8M532.79 355.40v-1.8M532.79 215.50v1.8M543.40 355.40v-2.6M543.40 215.50v2.6M554.01 355.40v-1.8M554.01 215.50v1.8M564.62 355.40v-1.8M564.62 215.50v1.8M575.24 355.40v-1.8M575.24 215.50v1.8M585.85 355.40v-2.6M585.85 215.50v2.6M596.46 355.40v-1.8M596.46 215.50v1.8M607.07 355.40v-1.8M607.07 215.50v1.8M617.69 355.40v-1.8M617.69 215.50v1.8M628.30 355.40v-2.6M628.30 215.50v2.6M373.60 355.40h2.6M628.30 355.40h-2.6M373.60 351.51h1.8M628.30 351.51h-1.8M373.60 347.63h1.8M628.30 347.63h-1.8M373.60 343.74h1.8M628.30 343.74h-1.8M373.60 339.86h2.6M628.30 339.86h-2.6M373.60 335.97h1.8M628.30 335.97h-1.8M373.60 332.08h1.8M628.30 332.08h-1.8M373.60 328.20h1.8M628.30 328.20h-1.8M373.60 324.31h2.6M628.30 324.31h-2.6M373.60 320.42h1.8M628.30 320.42h-1.8M373.60 316.54h1.8M628.30 316.54h-1.8M373.60 312.65h1.8M628.30 312.65h-1.8M373.60 308.77h2.6M628.30 308.77h-2.6M373.60 304.88h1.8M628.30 304.88h-1.8M373.60 300.99h1.8M628.30 300.99h-1.8M373.60 297.11h1.8M628.30 297.11h-1.8M373.60 293.22h2.6M628.30 293.22h-2.6M373.60 289.34h1.8M628.30 289.34h-1.8M373.60 285.45h1.8M628.30 285.45h-1.8M373.60 281.56h1.8M628.30 281.56h-1.8M373.60 277.68h2.6M628.30 277.68h-2.6M373.60 273.79h1.8M628.30 273.79h-1.8M373.60 269.91h1.8M628.30 269.91h-1.8M373.60 266.02h1.8M628.30 266.02h-1.8M373.60 262.13h2.6M628.30 262.13h-2.6M373.60 258.25h1.8M628.30 258.25h-1.8M373.60 254.36h1.8M628.30 254.36h-1.8M373.60 250.47h1.8M628.30 250.47h-1.8M373.60 246.59h2.6M628.30 246.59h-2.6M373.60 242.70h1.8M628.30 242.70h-1.8M373.60 238.82h1.8M628.30 238.82h-1.8M373.60 234.93h1.8M628.30 234.93h-1.8M373.60 231.04h2.6M628.30 231.04h-2.6M373.60 227.16h1.8M628.30 227.16h-1.8M373.60 223.27h1.8M628.30 223.27h-1.8M373.60 219.39h1.8M628.30 219.39h-1.8M373.60 215.50h2.6M628.30 215.50h-2.6" stroke="#4a4a4a" stroke-width="1" fill="none"/>
<rect x="373.6" y="215.5" width="254.69999999999993" height="139.89999999999998" fill="none" stroke="#444" stroke-width="1.25"/>
<text x="369.5" y="360.10" text-anchor="end" font-size="13.5">5</text>
<text x="369.5" y="344.56" text-anchor="end" font-size="13.5">6</text>
<text x="369.5" y="329.01" text-anchor="end" font-size="13.5">7</text>
<text x="369.5" y="313.47" text-anchor="end" font-size="13.5">8</text>
<text x="369.5" y="297.92" text-anchor="end" font-size="13.5">9</text>
<text x="369.5" y="282.38" text-anchor="end" font-size="13.5">10</text>
<text x="369.5" y="266.83" text-anchor="end" font-size="13.5">11</text>
<text x="369.5" y="251.29" text-anchor="end" font-size="13.5">12</text>
<text x="369.5" y="235.74" text-anchor="end" font-size="13.5">13</text>
<text x="369.5" y="220.20" text-anchor="end" font-size="13.5">14</text>
<text x="373.60" y="371.7" text-anchor="middle" font-size="13.5">4</text>
<text x="416.05" y="371.7" text-anchor="middle" font-size="13.5">8</text>
<text x="458.50" y="371.7" text-anchor="middle" font-size="13.5">12</text>
<text x="500.95" y="371.7" text-anchor="middle" font-size="13.5">16</text>
<text x="543.40" y="371.7" text-anchor="middle" font-size="13.5">20</text>
<text x="585.85" y="371.7" text-anchor="middle" font-size="13.5">24</text>
<text x="628.30" y="371.7" text-anchor="middle" font-size="13.5">28</text>
<path d="M371.60 319.88 L373.77 319.84 L375.95 319.80 L378.12 319.75 L380.30 319.70 L382.47 319.65 L384.64 319.60 L386.82 319.55 L388.99 319.50 L391.17 319.44 L393.34 319.38 L395.51 319.32 L397.69 319.26 L399.86 319.19 L402.04 319.13 L404.21 319.05 L406.38 318.98 L408.56 318.90 L410.73 318.82 L412.91 318.73 L415.08 318.64 L417.25 318.55 L419.43 318.45 L421.60 318.34 L423.77 318.23 L425.95 318.12 L428.12 317.99 L430.30 317.86 L432.47 317.73 L434.64 317.58 L436.82 317.43 L438.99 317.27 L441.17 317.10 L443.34 316.92 L445.51 316.73 L447.69 316.53 L449.86 316.31 L452.04 316.09 L454.21 315.85 L456.38 315.61 L458.56 315.34 L460.73 315.07 L462.91 314.78 L465.08 314.48 L467.25 314.17 L469.43 313.84 L471.60 313.50 L473.78 313.15 L475.95 312.79 L478.12 312.41 L480.30 312.03 L482.47 311.63 L484.65 311.22 L486.82 310.80 L488.99 310.37 L491.17 309.94 L493.34 309.49 L495.52 309.04 L497.69 308.58 L499.86 308.11 L502.04 307.63 L504.21 307.15 L506.38 306.67 L508.56 306.17 L510.73 305.68 L512.91 305.17 L515.08 304.67 L517.25 304.16 L519.43 303.64 L521.60 303.13 L523.78 302.60 L525.95 302.08 L528.12 301.55 L530.30 301.02 L532.47 300.49 L534.65 299.95 L536.82 299.42 L538.99 298.88 L541.17 298.34 L543.34 297.79 L545.52 297.25 L547.69 296.70 L549.86 296.15 L552.04 295.60 L554.21 295.05 L556.39 294.50 L558.56 293.94 L560.73 293.39 L562.91 292.83 L565.08 292.27 L567.26 291.72 L569.43 291.16 L571.60 290.60 L573.78 290.03 L575.95 289.47 L578.13 288.91 L580.30 288.35 L582.47 287.78 L584.65 287.22 L586.82 286.65 L588.99 286.09 L591.17 285.52 L593.34 284.95 L595.52 284.38 L597.69 283.81 L599.86 283.25 L602.04 282.68 L604.21 282.11 L606.39 281.54 L608.56 280.97 L610.73 280.39 L612.91 279.82 L615.08 279.25 L617.26 278.68 L619.43 278.11 L621.60 277.53 L623.78 276.96 L625.95 276.39 L628.13 275.81 L630.30 275.24" clip-path="url(#c4)" fill="none" stroke="#1c1c1c" stroke-width="1.8" stroke-dasharray="3 4"/>
<path d="M371.60 347.35 L373.77 346.80 L375.95 346.24 L378.12 345.70 L380.30 345.15 L382.47 344.60 L384.64 344.06 L386.82 343.51 L388.99 342.97 L391.17 342.43 L393.34 341.90 L395.51 341.36 L397.69 340.83 L399.86 340.30 L402.04 339.78 L404.21 339.25 L406.38 338.73 L408.56 338.22 L410.73 337.70 L412.91 337.19 L415.08 336.69 L417.25 336.19 L419.43 335.69 L421.60 335.20 L423.77 334.72 L425.95 334.24 L428.12 333.77 L430.30 333.30 L432.47 332.85 L434.64 332.40 L436.82 331.95 L438.99 331.52 L441.17 331.10 L443.34 330.68 L445.51 330.28 L447.69 329.88 L449.86 329.50 L452.04 329.13 L454.21 328.77 L456.38 328.43 L458.56 328.09 L460.73 327.77 L462.91 327.46 L465.08 327.17 L467.25 326.89 L469.43 326.62 L471.60 326.36 L473.78 326.12 L475.95 325.89 L478.12 325.67 L480.30 325.46 L482.47 325.26 L484.65 325.08 L486.82 324.90 L488.99 324.73 L491.17 324.58 L493.34 324.43 L495.52 324.29 L497.69 324.15 L499.86 324.03 L502.04 323.91 L504.21 323.79 L506.38 323.68 L508.56 323.58 L510.73 323.48 L512.91 323.39 L515.08 323.30 L517.25 323.22 L519.43 323.14 L521.60 323.06 L523.78 322.99 L525.95 322.92 L528.12 322.85 L530.30 322.78 L532.47 322.72 L534.65 322.66 L536.82 322.61 L538.99 322.55 L541.17 322.50 L543.34 322.45 L545.52 322.40 L547.69 322.35 L549.86 322.30 L552.04 322.26 L554.21 322.21 L556.39 322.17 L558.56 322.13 L560.73 322.09 L562.91 322.05 L565.08 322.02 L567.26 321.98 L569.43 321.94 L571.60 321.91 L573.78 321.88 L575.95 321.84 L578.13 321.81 L580.30 321.78 L582.47 321.75 L584.65 321.72 L586.82 321.69 L588.99 321.66 L591.17 321.63 L593.34 321.61 L595.52 321.58 L597.69 321.55 L599.86 321.53 L602.04 321.50 L604.21 321.48 L606.39 321.45 L608.56 321.43 L610.73 321.40 L612.91 321.38 L615.08 321.36 L617.26 321.33 L619.43 321.31 L621.60 321.29 L623.78 321.27 L625.95 321.25 L628.13 321.23 L630.30 321.21" clip-path="url(#c4)" fill="none" stroke="#1c1c1c" stroke-width="1.8" stroke-dasharray="3 4"/>
<line x1="373.6" y1="333.3" x2="628.3" y2="298.1" stroke="#1c1c1c" stroke-width="1.85"/>
<circle cx="396.8" cy="316.4" r="3.25" fill="#1c1c1c"/>
<circle cx="417" cy="310.2" r="3.25" fill="#1c1c1c"/>
<circle cx="418" cy="313.6" r="3.25" fill="#1c1c1c"/>
<circle cx="422" cy="285" r="3.25" fill="#1c1c1c"/>
<circle cx="423.9" cy="317.3" r="3.25" fill="#1c1c1c"/>
<circle cx="429.7" cy="313.4" r="3.25" fill="#1c1c1c"/>
<circle cx="433" cy="320.6" r="3.25" fill="#1c1c1c"/>
<circle cx="411.5" cy="330.6" r="3.25" fill="#1c1c1c"/>
<circle cx="416" cy="324.6" r="3.25" fill="#1c1c1c"/>
<circle cx="422" cy="324.6" r="3.25" fill="#1c1c1c"/>
<circle cx="418" cy="332.7" r="3.25" fill="#1c1c1c"/>
<circle cx="421.8" cy="332.4" r="3.25" fill="#1c1c1c"/>
<circle cx="434.6" cy="328.1" r="3.25" fill="#1c1c1c"/>
<circle cx="431.6" cy="332.6" r="3.25" fill="#1c1c1c"/>
<circle cx="430.1" cy="336.4" r="3.25" fill="#1c1c1c"/>
<circle cx="429.4" cy="340.9" r="3.25" fill="#1c1c1c"/>
<circle cx="438" cy="336.4" r="3.25" fill="#1c1c1c"/>
<circle cx="441" cy="339" r="3.25" fill="#1c1c1c"/>
<circle cx="443.3" cy="331.5" r="3.25" fill="#1c1c1c"/>
<circle cx="450.8" cy="332.4" r="3.25" fill="#1c1c1c"/>
<circle cx="424.5" cy="348.9" r="3.25" fill="#1c1c1c"/>
<circle cx="463.5" cy="306.4" r="3.25" fill="#1c1c1c"/>
<circle cx="459.8" cy="309.9" r="3.25" fill="#1c1c1c"/>
<circle cx="458" cy="317.3" r="3.25" fill="#1c1c1c"/>
<circle cx="467.5" cy="324" r="3.25" fill="#1c1c1c"/>
<circle cx="468.2" cy="328.8" r="3.25" fill="#1c1c1c"/>
<circle cx="469" cy="333.5" r="3.25" fill="#1c1c1c"/>
<circle cx="457.8" cy="348.5" r="3.25" fill="#1c1c1c"/>
<circle cx="459.8" cy="346.8" r="3.25" fill="#1c1c1c"/>
<circle cx="495.5" cy="321.6" r="3.25" fill="#1c1c1c"/>
<circle cx="504.1" cy="328.8" r="3.25" fill="#1c1c1c"/>
<circle cx="519" cy="322.6" r="3.25" fill="#1c1c1c"/>
<circle cx="523.1" cy="306.3" r="3.25" fill="#1c1c1c"/>
<circle cx="526.3" cy="314.6" r="3.25" fill="#1c1c1c"/>
<circle cx="527.2" cy="330.4" r="3.25" fill="#1c1c1c"/>
<circle cx="526" cy="335.3" r="3.25" fill="#1c1c1c"/>
<circle cx="539.8" cy="323.6" r="3.25" fill="#1c1c1c"/>
<circle cx="544.2" cy="328" r="3.25" fill="#1c1c1c"/>
<circle cx="491" cy="232" r="3.25" fill="#1c1c1c"/>
<circle cx="571.75" cy="257" r="3.25" fill="#1c1c1c"/>
<circle cx="604.5" cy="302.5" r="3.25" fill="#1c1c1c"/>
<rect x="518.4" y="228.4" width="92.10" height="17.30" fill="#fff" stroke="#4a4a4a" stroke-width="1.3"/>
<text x="520.4" y="241.6" font-size="10.4" font-weight="bold" stroke="#1a1a1a" stroke-width="0.2">R=0.310; P=0.040</text>
<text transform="translate(342.9,322.6) rotate(-90)" font-size="14.2" font-weight="bold">PWV (m.s<tspan font-size="9.8" dy="-5.6">-1</tspan><tspan dy="5.6">)</tspan></text>
<text x="373.4" y="396.8"><tspan font-size="13.9" font-weight="bold" dy="0">Daytime&#160;systolic&#160;BP&#160;variability&#160;(mmHg)</tspan></text>
</g>
</svg>
</body></html>
